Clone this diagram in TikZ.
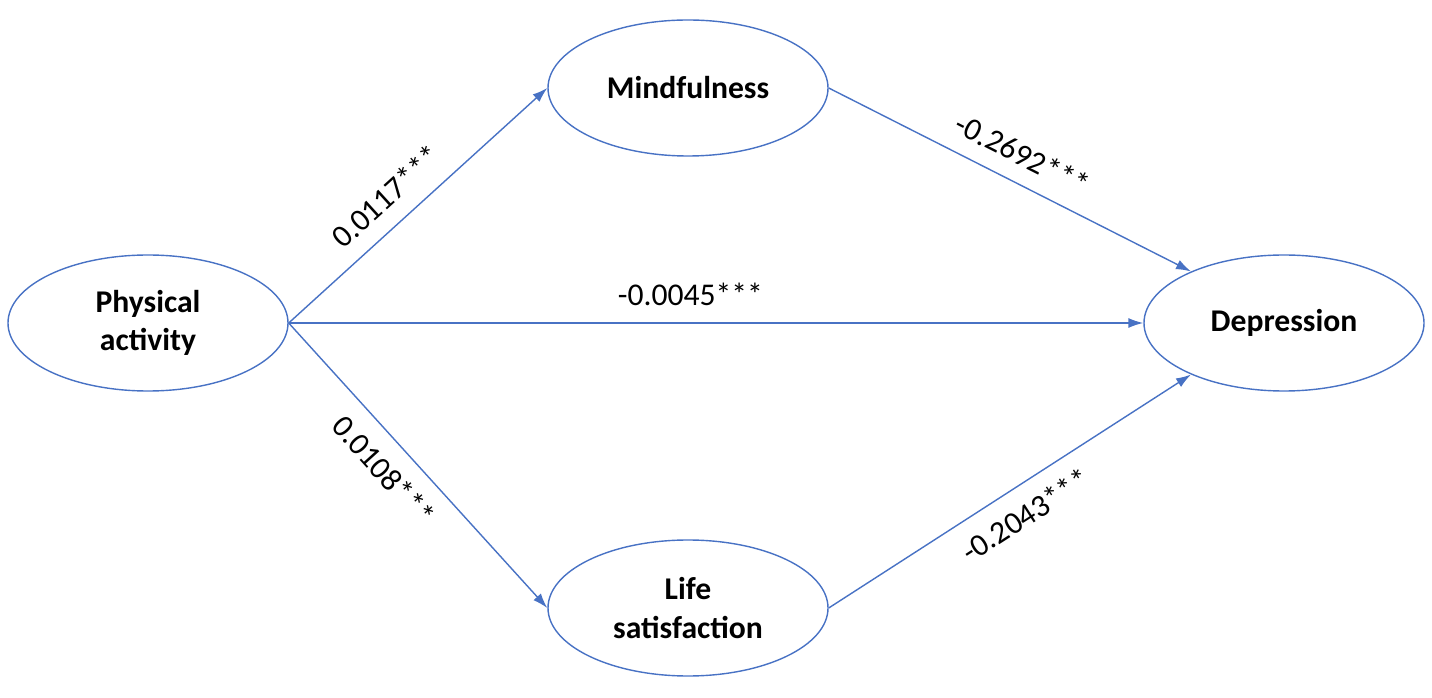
\documentclass[tikz,border=0pt]{standalone}
\usepackage{fontspec}
\setmainfont{Carlito}
\usetikzlibrary{shapes.geometric, arrows.meta}
\definecolor{pathblue}{RGB}{72,114,196}
\begin{document}
\begin{tikzpicture}[
  latent/.style={draw=pathblue, thick, ellipse, minimum width=5.6cm, minimum height=2.72cm,
    align=center, font=\fontsize{18}{22}\selectfont\bfseries, inner sep=0pt},
  path/.style={draw=pathblue, thick, -{Latex[length=3mm,width=2mm]}},
  coef/.style={font=\fontsize{18}{21}\selectfont, sloped}]
\useasboundingbox (0,0) rectangle (28.64,13.94);
% latent variables
	\node[latent] (pa) at (2.96,7.48) {Physical\\activity};
	\node[latent] (mf) at (13.76,12.18) {Mindfulness};
	\node[latent] (dep) at (25.68,7.48) {Depression};
	\node[latent] (ls) at (13.76,1.78) {Life\\satisfaction};

% paths
	\draw[path] (pa.east) -- (mf.west) node[coef, pos=0.45, above=6pt] {0.0117***};
	\draw[path] (pa.east) -- (ls.west) node[coef, pos=0.45, below=6pt] {0.0108***};
	\draw[path] (pa.east) -- (dep.west) node[coef, pos=0.47, above=6pt] {-0.0045***};
	\draw[path] (mf.east) -- (dep.151) node[coef, midway, above=6pt] {-0.2692***};
	\draw[path] (ls.east) -- (dep.209) node[coef, midway, below=6pt] {-0.2043***};
\end{tikzpicture}
\end{document}
